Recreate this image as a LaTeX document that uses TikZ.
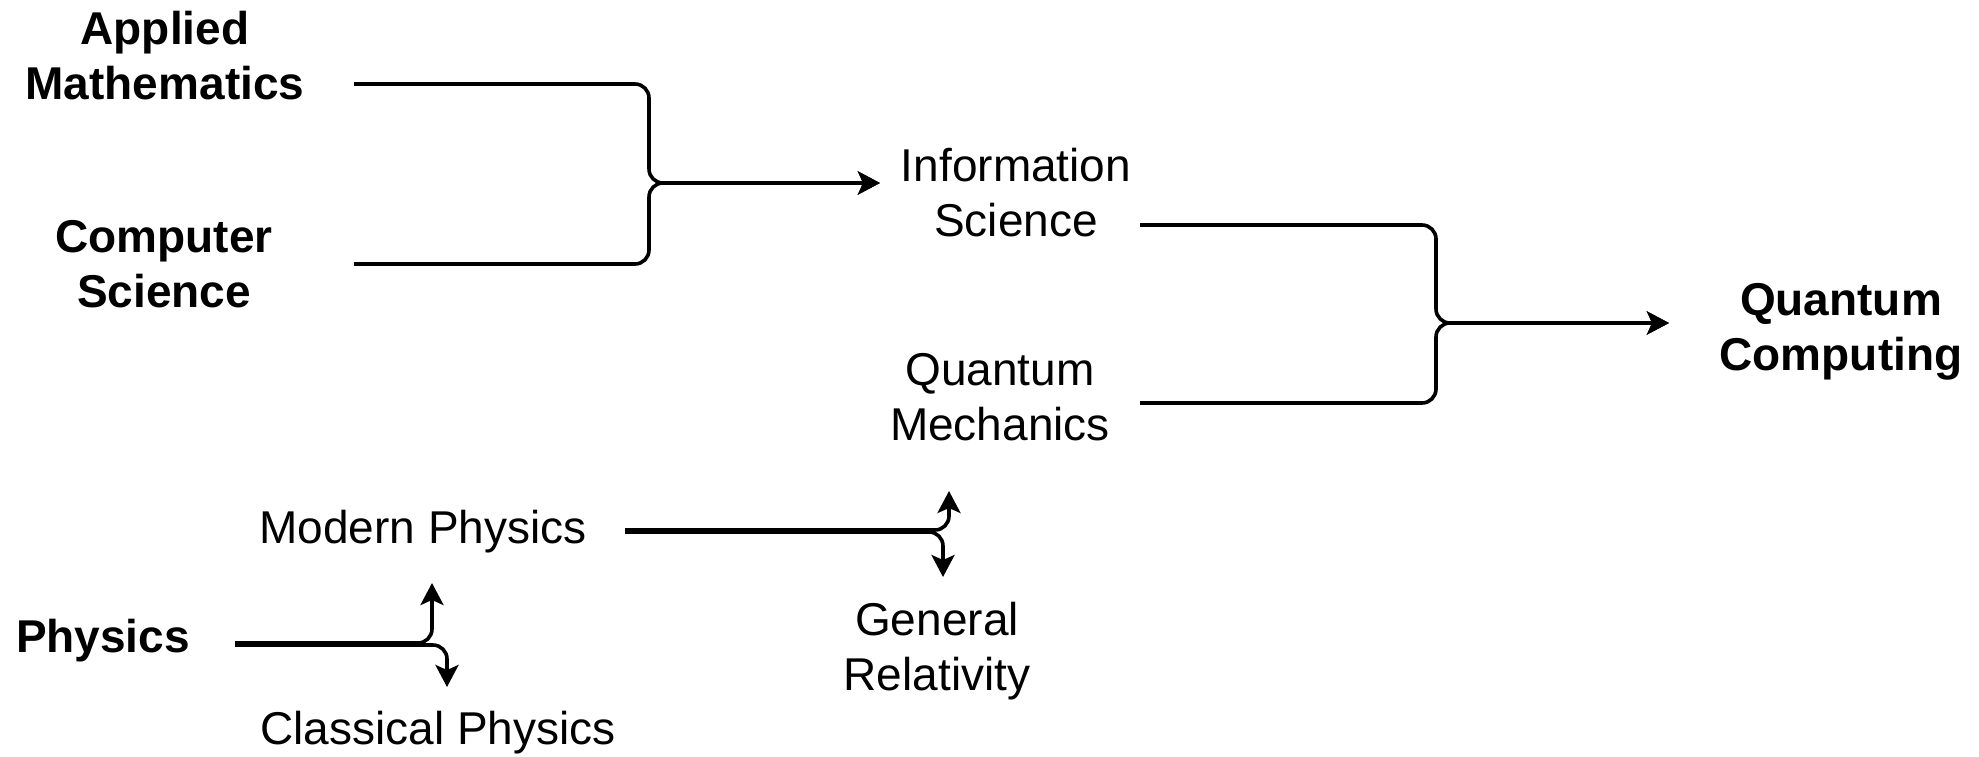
\documentclass[tikz,border=0pt]{standalone}
\usepackage{fontspec}
\setmainfont{Liberation Sans}
\usetikzlibrary{arrows.meta}
\begin{document}
\begin{tikzpicture}[x=0.5pt,y=-0.5pt,
  txt/.style={inner sep=0pt, align=center, font=\fontsize{23}{27.5}\selectfont},
  head/.style={txt, font=\fontsize{23}{27.5}\selectfont\bfseries},
  link/.style={line width=1.8pt, rounded corners=7pt,
    -{Stealth[length=11pt,width=11.5pt,inset=2.5pt]}},
]
\useasboundingbox (0,0) rectangle (1979,756);

% fields
\node[head] (am)   at (165,56)  {Applied\\Mathematics};
\node[head] (cs)   at (164,264) {Computer\\Science};
\node[txt]  (is)   at (1016,193) {Information\\Science};
\node[txt]  (qm)   at (1000,397) {Quantum\\Mechanics};
\node[head] (qc)   at (1841,332) {Quantum\\Computing};
\node[head] (phys) at (103,641) {Physics};
\node[txt]  (mod)  at (423,532) {Modern Physics};
\node[txt]  (cls)  at (438,733) {Classical Physics};
\node[txt]  (gr)   at (937,651) {General\\Relativity};

% connector ends and junctions
\coordinate (am-out) at (354,84);
\coordinate (cs-out) at (354,264);
\coordinate (j1)     at (649,183);
\coordinate (is-in)  at (880,183);

\coordinate (is-out) at (1140,225);
\coordinate (qm-out) at (1140,403);
\coordinate (j2)     at (1436,323);
\coordinate (qc-in)  at (1669,323);

\coordinate (phys-out) at (235,644);
\coordinate (mod-in)   at (432,583);
\coordinate (cls-in)   at (447,687);

\coordinate (mod-out) at (625,531);
\coordinate (qm-in)   at (949,491);
\coordinate (gr-in)   at (943,577);

% merging flows
\draw[link] (am-out) -| (j1) -- (is-in);
\draw[link] (cs-out) -| (j1) -- (is-in);
\draw[link] (is-out) -| (j2) -- (qc-in);
\draw[link] (qm-out) -| (j2) -- (qc-in);

% splitting flows
\draw[link] ([yshift=0.5pt]phys-out) -| (mod-in);
\draw[link] ([yshift=-0.5pt]phys-out) -| (cls-in);
\draw[link] ([yshift=0.5pt]mod-out) -| (qm-in);
\draw[link] ([yshift=-0.5pt]mod-out) -| (gr-in);
\end{tikzpicture}
\end{document}
